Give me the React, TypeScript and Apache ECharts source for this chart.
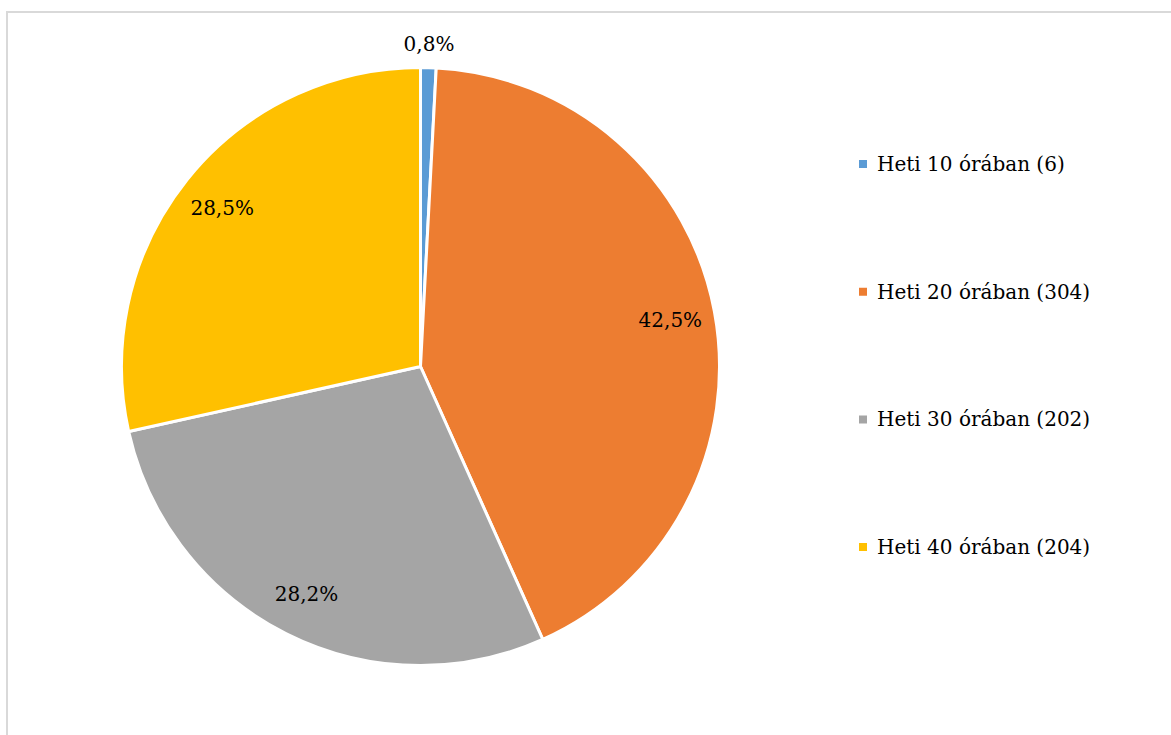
import React, { useEffect, useRef } from "react";
import * as echarts from "echarts";

const categories = [
  "Heti 10 órában (6)",
  "Heti 20 órában (304)",
  "Heti 30 órában (202)",
  "Heti 40 órában (204)",
];
const counts = [6, 304, 202, 204];
const colors = ["#5B9BD5", "#ED7D31", "#A5A5A5", "#FFC000"];
const smallSliceIndex = 0;

const FONT = "DejaVu Serif";

export default function App() {
  const ref = useRef<HTMLDivElement>(null);
  useEffect(() => {
    if (!ref.current) return;
    const chart = echarts.init(ref.current, null, { renderer: "svg" });
    const total = counts.reduce((a, b) => a + b, 0);
    const pct = (v: number) => ((v / total) * 100).toFixed(1).replace(".", ",") + "%";
    const center = [420.5, 366.5];
    const R = 299;
    chart.setOption({
      animation: false,
      backgroundColor: "#ffffff",
      textStyle: { fontFamily: FONT },
      graphic: [
        {
          type: "rect",
          shape: { x: 7, y: 12, width: 1200, height: 800 },
          style: { fill: "none", stroke: "#d9d9d9", lineWidth: 2 },
          silent: true,
        },
      ],
      legend: {
        orient: "vertical",
        left: 852,
        top: 149,
        itemGap: 107.7,
        itemWidth: 10,
        itemHeight: 10,
        icon: "rect",
        data: categories,
        textStyle: {
          fontFamily: FONT,
          fontSize: 20,
          color: "#000",
          padding: [0, 0, 0, 4],
        },
      },
      series: [
        {
          type: "pie",
          center,
          radius: [0, R],
          startAngle: 90,
          clockwise: true,
          label: { show: false },
          labelLine: { show: false },
          itemStyle: { borderColor: "#fff", borderWidth: 3 },
          data: categories.map((name, i) => ({
            name,
            value: counts[i],
            itemStyle: { color: colors[i] },
          })),
        },
        {
          type: "pie",
          center,
          radius: [R * 0.68, R],
          startAngle: 90,
          clockwise: true,
          silent: true,
          avoidLabelOverlap: false,
          itemStyle: { color: "transparent" },
          labelLine: { show: false },
          data: categories.map((name, i) => ({
            name,
            value: counts[i],
            label: {
              show: i !== smallSliceIndex,
              position: "inside",
              formatter: pct(counts[i]),
              fontFamily: FONT,
              fontSize: 20,
              color: "#000",
            },
          })),
        },
        {
          type: "pie",
          center,
          radius: [R, R + 42],
          startAngle: 90,
          clockwise: true,
          silent: true,
          avoidLabelOverlap: false,
          itemStyle: { color: "transparent" },
          labelLine: { show: false },
          data: categories.map((name, i) => ({
            name,
            value: counts[i],
            label: {
              show: i === smallSliceIndex,
              position: "inside",
              formatter: pct(counts[i]),
              fontFamily: FONT,
              fontSize: 20,
              color: "#000",
            },
          })),
        },
      ],
    });
    return () => chart.dispose();
  }, []);
  return (
    <div
      ref={ref}
      style={{ position: "absolute", left: 0, top: 0, width: 1171, height: 735 }}
    />
  );
}
